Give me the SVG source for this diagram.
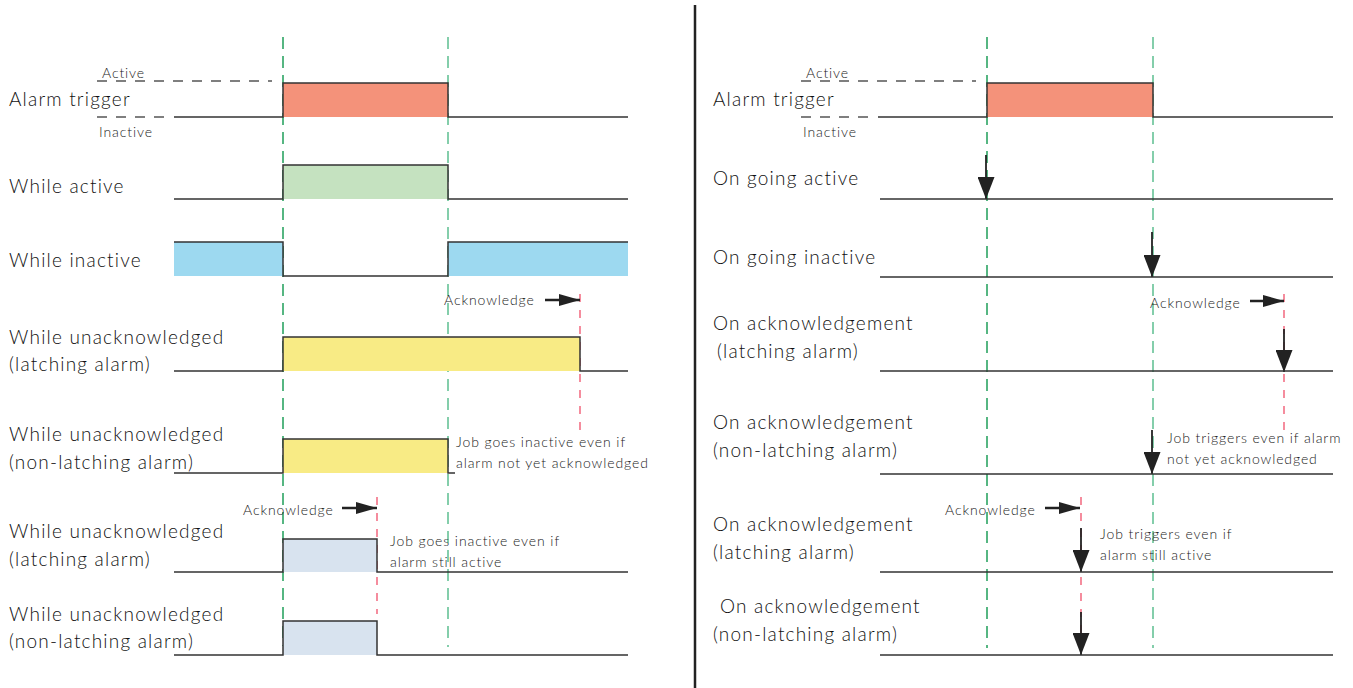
<svg xmlns="http://www.w3.org/2000/svg" width="1353" height="688" viewBox="0 0 1353 688">
<defs>
<style>
.lbl{font-family:Lato,"Noto Sans","Liberation Sans",sans-serif;font-size:19px;font-weight:300;fill:#111;letter-spacing:1.2px}
.sm{font-family:Lato,"Noto Sans","Liberation Sans",sans-serif;font-size:14px;font-weight:300;fill:#1a1a1a;letter-spacing:0.9px}
.sig{fill:none;stroke:#333;stroke-width:1.5}
.lvl{fill:none;stroke:#555;stroke-width:1.5;stroke-dasharray:10 9}
.g1{fill:none;stroke:#1f9e5a;stroke-width:1.5;stroke-dasharray:12 7}
.g2{fill:none;stroke:#5cbf90;stroke-width:1.5;stroke-dasharray:12 7}
.red{fill:none;stroke:#f0506a;stroke-width:1.3;stroke-dasharray:8 8}
.harr{fill:none;stroke:#222;stroke-width:2.5;marker-end:url(#ha)}
.varr{fill:none;stroke:#222;stroke-width:1.8;marker-end:url(#va)}
</style>
<marker id="ha" markerUnits="userSpaceOnUse" markerWidth="22" markerHeight="12" refX="21" refY="6" orient="auto"><path d="M0,0 L21,6 L0,12 z" fill="#222"/></marker>
<marker id="va" markerUnits="userSpaceOnUse" markerWidth="22" markerHeight="17" refX="22" refY="8.5" orient="auto"><path d="M0,0 L22,8.5 L0,17 z" fill="#222"/></marker>
</defs>
<rect width="1353" height="688" fill="#fff"/>

<g id="divider"><line x1="695" y1="5" x2="695" y2="688" stroke="#222" stroke-width="2.5"/></g>

<g id="connectors">
<line class="g1" x1="283" y1="37" x2="283" y2="646"/>
<line class="g2" x1="448" y1="37" x2="448" y2="647"/>
<line class="red" x1="580" y1="294" x2="580" y2="432"/>
<line class="red" x1="377" y1="497" x2="377" y2="614"/>
<line class="g1" x1="987" y1="37" x2="987" y2="648"/>
<line class="g2" x1="1153" y1="37" x2="1153" y2="648"/>
<line class="red" x1="1284" y1="294" x2="1284" y2="430"/>
<line class="red" x1="1081" y1="497" x2="1081" y2="655"/>
<path class="harr" d="M545,300 H580"/>
<path class="harr" d="M342,508 H377"/>
<path class="harr" d="M1250,301 H1284"/>
<path class="harr" d="M1045,508 H1080"/>
<path class="varr" d="M986,155 V199"/>
<path class="varr" d="M1152,232 V277"/>
<path class="varr" d="M1284,329 V372"/>
<path class="varr" d="M1152,430 V474"/>
<path class="varr" d="M1081,528 V572"/>
<path class="varr" d="M1081,612 V655"/>
</g>

<g id="left-alarm-trigger">
<rect x="283" y="83" width="165" height="34" fill="#f4927a"/>
<path class="sig" d="M174,117 H283 V83 H448 V117 H628"/>
<path class="lvl" d="M97,81 H272"/>
<path class="lvl" d="M97,117 H166"/>
<text class="lbl" x="9" y="106">Alarm trigger</text>
<text class="sm" x="102" y="78">Active</text>
<text class="sm" x="99" y="137">Inactive</text>
</g>

<g id="left-while-active">
<rect x="283" y="165" width="165" height="34" fill="#c5e2c0"/>
<path class="sig" d="M174,199 H283 V165 H448 V199 H628"/>
<text class="lbl" x="9" y="193">While active</text>
</g>

<g id="left-while-inactive">
<rect x="174" y="242" width="109" height="34" fill="#9dd9f0"/>
<rect x="448" y="242" width="180" height="34" fill="#9dd9f0"/>
<path class="sig" d="M174,242 H283 V276 H448 V242 H628"/>
<text class="lbl" x="9" y="267">While inactive</text>
</g>

<g id="left-unack-latching">
<rect x="283" y="337" width="297" height="34" fill="#f8eb85"/>
<path class="sig" d="M174,371 H283 V337 H580 V371 H628"/>
<text class="lbl" x="9" y="344">While unacknowledged</text>
<text class="lbl" x="9" y="371">(latching alarm)</text>
<text class="sm" x="444" y="305">Acknowledge</text>
</g>

<g id="left-unack-nonlatching">
<rect x="283" y="439" width="165" height="34" fill="#f8eb85"/>
<path class="sig" d="M174,473 H283 V439 H448 V473 H455"/>
<text class="lbl" x="9" y="441">While unacknowledged</text>
<text class="lbl" x="9" y="469">(non-latching alarm)</text>
<text class="sm" x="456" y="447">Job goes inactive even if</text>
<text class="sm" x="456" y="468">alarm not yet acknowledged</text>
</g>

<g id="left-ack-latching">
<rect x="283" y="539" width="94" height="33" fill="#d8e3ef"/>
<path class="sig" d="M174,572 H283 V539 H377 V572 H628"/>
<text class="lbl" x="9" y="538">While unacknowledged</text>
<text class="lbl" x="9" y="566">(latching alarm)</text>
<text class="sm" x="243" y="515">Acknowledge</text>
<text class="sm" x="390" y="546">Job goes inactive even if</text>
<text class="sm" x="390" y="567">alarm still active</text>
</g>

<g id="left-ack-nonlatching">
<rect x="283" y="621" width="94" height="34" fill="#d8e3ef"/>
<path class="sig" d="M174,655 H283 V621 H377 V655 H628"/>
<text class="lbl" x="9" y="621">While unacknowledged</text>
<text class="lbl" x="9" y="648">(non-latching alarm)</text>
</g>

<g id="right-alarm-trigger">
<rect x="987" y="83" width="166" height="34" fill="#f4927a"/>
<path class="sig" d="M878,117 H987 V83 H1153 V117 H1333"/>
<path class="lvl" d="M801,81 H976"/>
<path class="lvl" d="M801,117 H870"/>
<text class="lbl" x="713" y="106">Alarm trigger</text>
<text class="sm" x="806" y="78">Active</text>
<text class="sm" x="803" y="137">Inactive</text>
</g>

<g id="right-going-active">
<path class="sig" d="M880,199 H1333"/>
<text class="lbl" x="713" y="185">On going active</text>
</g>

<g id="right-going-inactive">
<path class="sig" d="M880,277 H1333"/>
<text class="lbl" x="713" y="264">On going inactive</text>
</g>

<g id="right-ack-latching">
<path class="sig" d="M880,371 H1333"/>
<text class="lbl" x="713" y="330">On acknowledgement</text>
<text class="lbl" x="717" y="358">(latching alarm)</text>
<text class="sm" x="1150" y="308">Acknowledge</text>
</g>

<g id="right-ack-nonlatching">
<path class="sig" d="M880,474 H1333"/>
<text class="lbl" x="713" y="429">On acknowledgement</text>
<text class="lbl" x="713" y="457">(non-latching alarm)</text>
<text class="sm" x="1167" y="443">Job triggers even if alarm</text>
<text class="sm" x="1167" y="464">not yet acknowledged</text>
</g>

<g id="right-ack-latching-2">
<path class="sig" d="M880,572 H1333"/>
<text class="lbl" x="713" y="531">On acknowledgement</text>
<text class="lbl" x="713" y="559">(latching alarm)</text>
<text class="sm" x="945" y="515">Acknowledge</text>
<text class="sm" x="1100" y="539">Job triggers even if</text>
<text class="sm" x="1100" y="560">alarm still active</text>
</g>

<g id="right-ack-nonlatching-2">
<path class="sig" d="M880,655 H1333"/>
<text class="lbl" x="720" y="613">On acknowledgement</text>
<text class="lbl" x="713" y="641">(non-latching alarm)</text>
</g>
</svg>
